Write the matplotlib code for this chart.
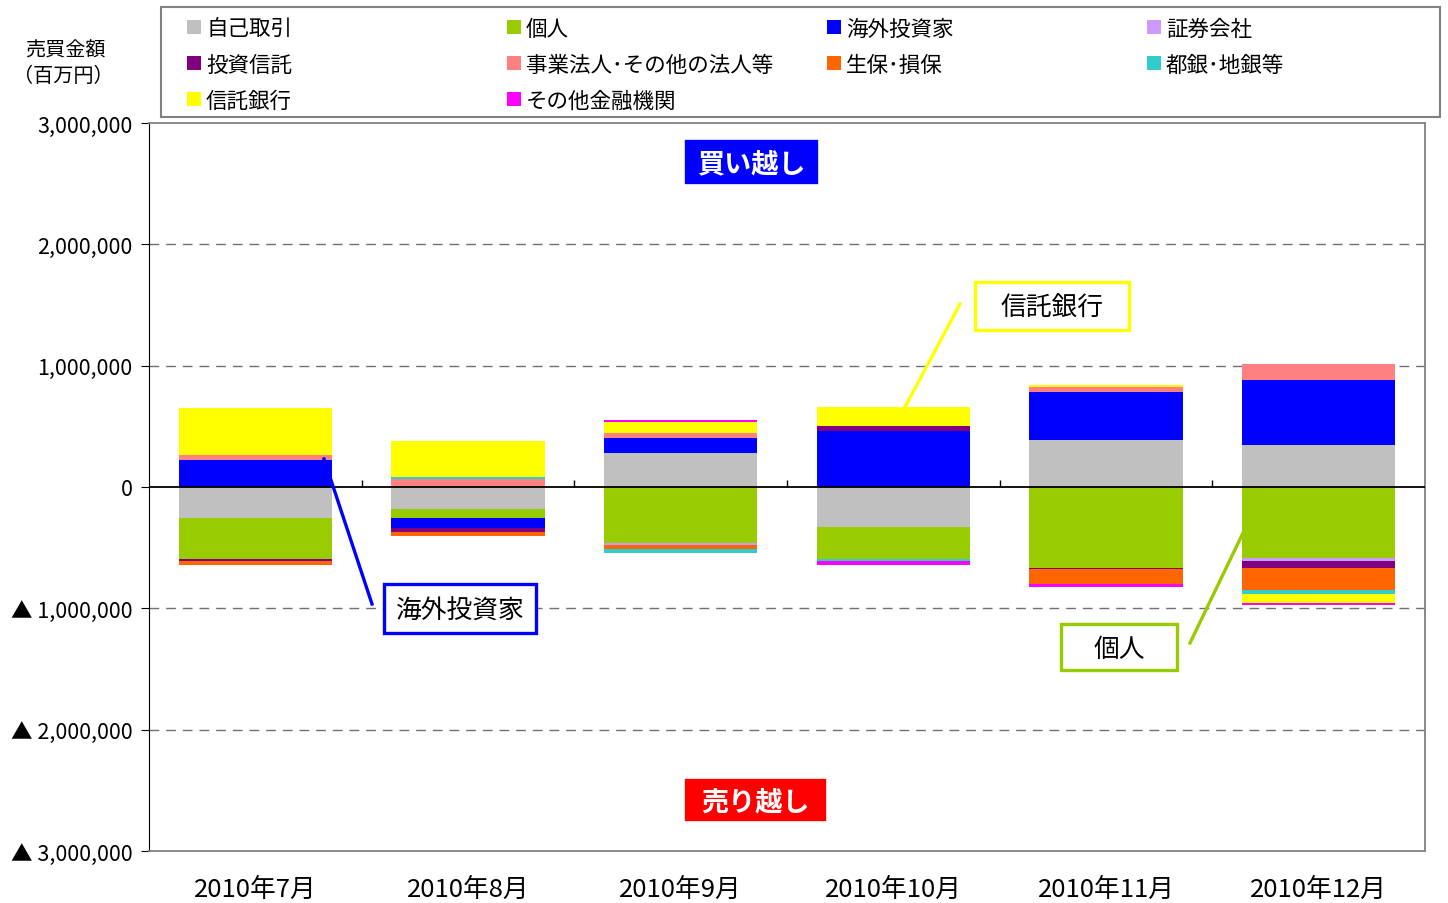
import numpy as np
import matplotlib
matplotlib.use("Agg")
import matplotlib.pyplot as plt
from matplotlib.patches import Rectangle
from matplotlib.lines import Line2D

plt.rcParams['font.family'] = ['Noto Sans CJK JP', 'DejaVu Sans']

# data (百万円)
months = ['2010年7月', '2010年8月', '2010年9月', '2010年10月', '2010年11月', '2010年12月']
series_names = ['自己取引', '個人', '海外投資家', '証券会社', '投資信託',
                '事業法人･その他の法人等', '生保･損保', '都銀･地銀等', '信託銀行', 'その他金融機関']
jiko = [-253000, -179000, 283000, -332000, 385000, 349000]
kojin = [-340000, -74000, -464000, -258000, -665000, -588000]
kaigai = [223000, -82000, 124000, 464000, 401000, 536000]
shoken = [0, 0, -11000, 0, 0, -19000]
toshin = [-16000, -33000, 0, 41000, -8000, -58000]
jigyo = [41000, 66000, 41000, 0, 41000, 132000]
seiho = [-33000, -33000, -33000, 0, -129000, -181000]
toginn = [0, 13000, -33000, -16000, 0, -39000]
shintaku = [390000, 302000, 91000, 151000, 16000, -74000]
sonota = [0, 0, 16000, -33000, -19000, -16000]

colors = ['#C0C0C0', '#99CC00', '#0000FF', '#CC99FF', '#800080',
          '#FF8080', '#FF6600', '#33CCCC', '#FFFF00', '#FF00FF']
all_series = [jiko, kojin, kaigai, shoken, toshin, jigyo, seiho, toginn, shintaku, sonota]

W, H = 1448, 904
fig = plt.figure(figsize=(W / 100, H / 100), dpi=100)


def fx(px):
    return px / W


def fy(py):
    return 1 - py / H


ax = fig.add_axes([fx(149), fy(852), fx(1425) - fx(149), fy(124) - fy(852)])

x = np.arange(len(months))
pos_bottom = np.zeros(len(months))
neg_bottom = np.zeros(len(months))
for vals, c in zip(all_series, colors):
    v = np.array(vals, dtype=float)
    bottom = np.where(v >= 0, pos_bottom, neg_bottom)
    ax.bar(x, v, 0.72, bottom=bottom, color=c, zorder=2, linewidth=0)
    pos_bottom += np.where(v >= 0, v, 0)
    neg_bottom += np.where(v < 0, v, 0)

ax.set_xlim(-0.5, len(months) - 0.5)
ax.set_ylim(-3000000, 3000000)

# grid
for g in [-2000000, -1000000, 1000000, 2000000]:
    ax.axhline(g, color='#707070', lw=1, ls=(0, (7, 5)), zorder=1)
ax.axhline(0, color='black', lw=1.3, zorder=3)
ax.vlines(np.arange(0.5, len(months) - 0.5), 0, 60000, color='black', lw=1, zorder=3)

yt = np.arange(-3000000, 3000001, 1000000)
ax.set_yticks(yt)
ax.set_yticklabels([f'{v:,}' if v >= 0 else f'▲ {-v:,}' for v in yt], fontsize=15.5)
ax.tick_params(axis='y', direction='out', length=6, pad=6, colors='black')
ax.set_xticks(x)
ax.set_xticklabels(months, fontsize=18.5)
ax.tick_params(axis='x', length=0, pad=18)

for s in ['top', 'right', 'bottom']:
    ax.spines[s].set_color('#808080')
    ax.spines[s].set_linewidth(1.3)
ax.spines['left'].set_color('black')

# y label
fig.text(fx(65), fy(51), '売買金額', ha='center', va='center', fontsize=14.5)
fig.text(fx(63), fy(77), '（百万円）', ha='center', va='center', fontsize=14.5)

# legend
fig.add_artist(Rectangle((fx(161), fy(118)), fx(1440) - fx(161), fy(8) - fy(118),
                         transform=fig.transFigure, fill=False, edgecolor='#808080', lw=1.5))
for k, name in enumerate(series_names):
    row, col = divmod(k, 4)
    mx = 187 + 320 * col
    my = 28 + 36 * row
    fig.add_artist(Rectangle((fx(mx), fy(my + 7)), fx(14), 14 / H,
                             transform=fig.transFigure, facecolor=colors[k], edgecolor='none'))
    fig.text(fx(mx + 19), fy(my + 2), name, ha='left', va='center', fontsize=15.5)


def label_box(x0, y0, x1, y1, text, face, edge, tcolor, bold=False, size=18):
    fig.add_artist(Rectangle((fx(x0), fy(y1)), fx(x1) - fx(x0), fy(y0) - fy(y1),
                             transform=fig.transFigure, facecolor=face, edgecolor=edge,
                             lw=2.4, zorder=5))
    fig.text(fx((x0 + x1) / 2), fy((y0 + y1) / 2 + 2), text, ha='center', va='center',
             color=tcolor, fontsize=size, fontweight='bold' if bold else 'normal', zorder=6)


def leader(p0, p1, color):
    fig.add_artist(Line2D([fx(p0[0]), fx(p1[0])], [fy(p0[1]), fy(p1[1])],
                          transform=fig.transFigure, color=color, lw=2.4, zorder=5))


label_box(686, 142, 816, 183, '買い越し', '#0000FF', '#0000FF', 'white', bold=True, size=19.5)
label_box(686, 781, 824, 820, '売り越し', '#FF0000', '#FF0000', 'white', bold=True, size=19.5)
label_box(975, 283, 1129, 331, '信託銀行', 'white', '#FFFF00', 'black', size=18.5)
label_box(384, 585, 536, 634, '海外投資家', 'white', '#0000FF', 'black', size=18.5)
label_box(1061, 625, 1177, 671, '個人', 'white', '#99CC00', 'black', size=18.5)

leader((960, 305), (905, 408), '#FFFF00')
leader((324, 460), (372, 605), '#0000FF')
leader((1190, 644), (1243, 534), '#99CC00')

fig.savefig('out.png', dpi=100)
